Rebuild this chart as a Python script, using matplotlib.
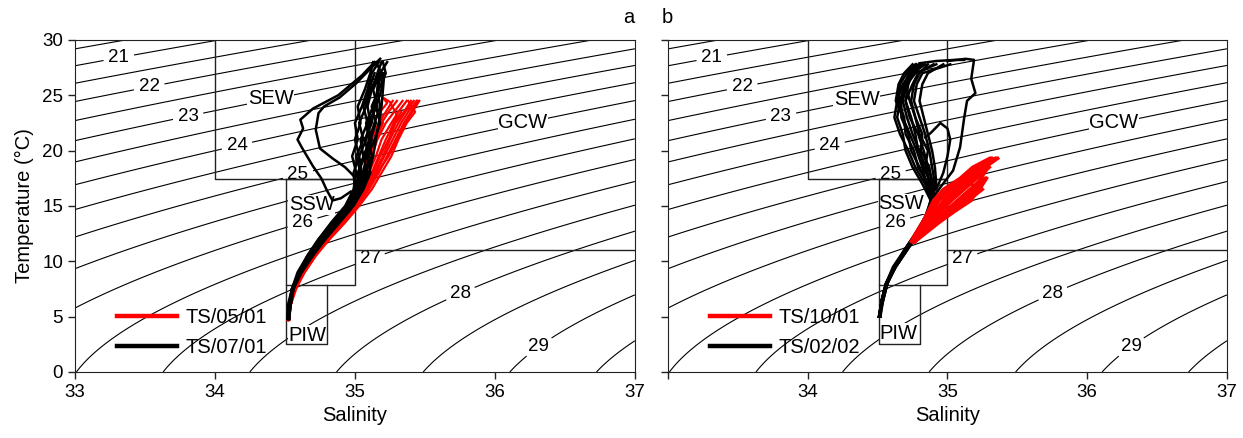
import numpy as np
import matplotlib.pyplot as plt

plt.rcParams['font.family'] = ['Liberation Sans', 'DejaVu Sans']

nan = np.nan

# ---- panel a : red = TS/05/01, black = TS/07/01 ----
ta_red = [4.7, 6.0, 7.5, 9.0, 10.5, 12.0, 13.5, 15.0, 16.5, 18.0, 19.5, 21.0, 22.5, 23.5, 24.5]
sa_red = [
    [34.52, 34.53, 34.56, 34.62, 34.69, 34.78, 34.88, 34.97, 35.04, 35.08, 35.12, 35.16, 35.22, 35.28, 35.34],
    [34.52, 34.54, 34.57, 34.63, 34.71, 34.80, 34.90, 35.00, 35.08, 35.14, 35.20, 35.25, 35.31, 35.36, 35.42],
    [34.53, 34.53, 34.56, 34.61, 34.68, 34.77, 34.87, 34.96, 35.02, 35.06, 35.09, 35.12, 35.17, 35.22, 35.27],
    [34.52, 34.53, 34.57, 34.63, 34.70, 34.79, 34.89, 34.99, 35.07, 35.12, 35.17, 35.22, 35.28, 35.33, nan],
    [34.52, 34.54, 34.58, 34.64, 34.72, 34.81, 34.92, 35.02, 35.10, 35.17, 35.23, 35.29, 35.35, 35.40, 35.45],
    [34.53, 34.54, 34.56, 34.62, 34.70, 34.79, 34.88, 34.98, 35.05, 35.10, 35.15, 35.19, 35.26, 35.31, 35.37],
    [34.52, 34.53, 34.57, 34.63, 34.71, 34.80, 34.91, 35.01, 35.09, 35.15, 35.21, 35.27, 35.33, 35.38, 35.44],
    [34.53, 34.53, 34.56, 34.62, 34.69, 34.78, 34.87, 34.97, 35.03, 35.07, 35.10, 35.14, 35.19, 35.24, 35.30],
    [34.52, 34.54, 34.57, 34.64, 34.72, 34.82, 34.93, 35.03, 35.12, 35.19, 35.26, 35.31, 35.37, 35.43, 35.38],
    [34.52, 34.53, 34.56, 34.62, 34.70, 34.80, 34.90, 35.00, 35.06, 35.13, 35.18, 35.24, 35.29, 35.35, 35.40],
    [34.53, 34.54, 34.57, 34.63, 34.71, 34.81, 34.91, 35.02, 35.09, 35.16, 35.24, 35.30, 35.36, 35.41, 35.46],
]
# red cast with a loop near the surface
ra_loop_s = [35.10, 35.15, 35.20, 35.18, 35.23, 35.20, 35.25, 35.30, 35.26]
ra_loop_t = [19.5, 21.0, 22.5, 23.5, 24.3, 24.8, 24.4, 23.2, 22.0]

ta_black = [4.8, 6.0, 7.5, 9.0, 10.5, 12.0, 13.5, 15.0, 16.5, 18.0, 19.5, 21.0, 22.5, 24.0, 25.5, 27.0, 28.0]
sa_black = [
    [34.52, 34.53, 34.55, 34.60, 34.67, 34.75, 34.84, 34.95, 35.02, 35.04, 35.01, 35.06, 35.03, 35.08, 35.10, 35.14, nan],
    [34.52, 34.53, 34.56, 34.61, 34.68, 34.76, 34.86, 34.97, 35.04, 35.08, 35.10, 35.07, 35.12, 35.14, 35.16, 35.17, nan],
    [34.53, 34.54, 34.56, 34.60, 34.66, 34.74, 34.83, 34.93, 34.99, 35.01, 34.98, 35.02, 35.00, 35.05, 35.09, 35.12, 35.17],
    [34.52, 34.52, 34.55, 34.61, 34.69, 34.78, 34.88, 34.98, 35.05, 35.10, 35.13, 35.15, 35.17, 35.19, 35.20, 35.21, nan],
    [34.53, 34.53, 34.55, 34.59, 34.66, 34.74, 34.84, 34.94, 35.00, 35.03, 35.06, 35.04, 35.09, 35.06, 35.11, 35.18, 35.23],
    [34.52, 34.53, 34.56, 34.62, 34.70, 34.79, 34.89, 34.99, 35.06, 35.11, 35.09, 35.14, 35.18, 35.15, 35.19, 35.20, nan],
    [34.52, 34.53, 34.55, 34.60, 34.67, 34.76, 34.85, 34.96, 35.03, 35.02, 35.07, 35.10, 35.08, 35.13, 35.17, nan, nan],
    [34.53, 34.54, 34.56, 34.61, 34.68, 34.77, 34.87, 34.97, 35.01, 35.05, 35.03, 35.08, 35.11, 35.09, 35.12, 35.16, 35.19],
    [34.52, 34.53, 34.56, 34.61, 34.69, 34.77, 34.86, 34.96, 35.03, 35.07, 35.12, 35.10, 35.14, 35.18, 35.16, 35.19, 35.15],
    [34.52, 34.53, 34.55, 34.60, 34.67, 34.76, 34.85, 34.95, 35.00, 34.99, 35.03, 35.00, 35.04, 35.02, 35.07, 35.11, 35.13],
    [34.53, 34.53, 34.56, 34.61, 34.68, 34.77, 34.87, 34.98, 35.05, 35.09, 35.06, 35.11, 35.15, 35.12, 35.17, 35.22, 35.20],
    [34.52, 34.54, 34.56, 34.61, 34.69, 34.78, 34.87, 34.97, 35.02, 35.06, 35.08, 35.12, 35.09, 35.16, 35.13, 35.18, nan],
]
# two casts that loop out to low salinity
loop1_s = [34.97, 34.90, 34.84, 34.80, 34.76, 34.70, 34.62, 34.59, 34.63, 34.61, 34.70, 34.88, 35.05, 35.14]
loop1_t = [16.3, 15.7, 15.5, 16.4, 17.5, 18.6, 20.3, 21.0, 22.0, 22.8, 23.8, 25.0, 26.8, 28.0]
loop2_s = [35.00, 34.93, 34.84, 34.75, 34.72, 34.74, 34.78, 34.89, 35.01, 35.18]
loop2_t = [17.6, 18.5, 19.3, 20.2, 21.9, 23.4, 24.0, 24.8, 26.1, 28.3]

# ---- panel b : red = TS/10/01, black = TS/02/02 ----
tb_red = [11.8, 12.5, 13.5, 14.5, 15.5, 16.5, 17.5, 18.5, 19.3]
sb_red = [
    [34.74, 34.77, 34.82, 34.86, 34.90, 34.97, 35.09, 35.18, 35.30],
    [34.75, 34.78, 34.84, 34.89, 34.94, 35.02, 35.13, 35.24, 35.34],
    [34.75, 34.79, 34.86, 34.92, 34.99, 35.07, 35.17, 35.27, 35.36],
    [34.76, 34.80, 34.88, 34.95, 35.03, 35.12, 35.21, 35.30, nan],
    [34.76, 34.81, 34.89, 34.98, 35.07, 35.16, 35.25, nan, nan],
    [34.77, 34.82, 34.91, 35.01, 35.11, 35.20, 35.27, nan, nan],
    [34.76, 34.83, 34.93, 35.03, 35.15, 35.25, nan, nan, nan],
    [34.75, 34.79, 34.87, 34.94, 35.01, 35.10, 35.19, 35.26, 35.32],
    [34.76, 34.82, 34.90, 35.00, 35.09, 35.18, 35.24, 35.29, nan],
    [34.75, 34.78, 34.83, 34.88, 34.92, 35.00, 35.11, 35.21, 35.31],
    [34.77, 34.83, 34.92, 35.02, 35.13, 35.23, 35.28, nan, nan],
    [34.76, 34.80, 34.86, 34.91, 34.97, 35.05, 35.15, 35.23, 35.35],
    [34.77, 34.84, 34.94, 35.05, 35.17, 35.22, 35.12, nan, nan],
]
tb_black = [5.0, 6.5, 8.0, 9.5, 11.0, 12.5, 14.0, 15.5, 17.0, 18.5, 20.0, 21.5, 23.0, 24.5, 26.0, 27.0, 27.8]
sb_black = [
    [34.51, 34.53, 34.56, 34.62, 34.70, 34.78, 34.85, 34.89, 34.84, 34.77, 34.72, 34.66, 34.62, 34.64, 34.68, 34.74, 34.80],
    [34.51, 34.53, 34.57, 34.63, 34.71, 34.79, 34.86, 34.90, 34.88, 34.84, 34.86, 34.80, 34.77, 34.74, 34.76, 34.80, 34.86],
    [34.52, 34.54, 34.57, 34.62, 34.70, 34.78, 34.85, 34.88, 34.82, 34.75, 34.70, 34.68, 34.64, 34.66, 34.70, 34.72, 34.78],
    [34.51, 34.53, 34.56, 34.62, 34.69, 34.77, 34.84, 34.89, 34.92, 34.91, 34.89, 34.86, 34.83, 34.80, 34.82, 34.86, 34.97],
    [34.51, 34.53, 34.56, 34.61, 34.69, 34.77, 34.84, 34.88, 34.86, 34.80, 34.74, 34.72, 34.67, 34.67, 34.69, 34.73, 34.80],
    [34.52, 34.53, 34.57, 34.63, 34.71, 34.79, 34.86, 34.90, 34.87, 34.85, 34.79, 34.77, 34.74, 34.70, 34.72, 34.75, 34.84],
    [34.51, 34.53, 34.56, 34.62, 34.70, 34.78, 34.85, 34.89, 34.90, 34.86, 34.83, 34.79, 34.73, 34.70, 34.75, 34.79, 34.90],
    [34.51, 34.54, 34.57, 34.62, 34.70, 34.78, 34.86, 34.90, 34.86, 34.79, 34.76, 34.70, 34.69, 34.65, 34.66, 34.71, 34.77],
    [34.52, 34.53, 34.56, 34.62, 34.70, 34.78, 34.85, 34.89, 34.91, 34.89, 34.87, 34.84, 34.80, 34.76, 34.78, 34.82, 35.02],
    [34.51, 34.53, 34.57, 34.62, 34.70, 34.78, 34.85, 34.89, 34.88, 34.83, 34.80, 34.75, 34.71, 34.68, 34.71, 34.77, 34.92],
    [34.52, 34.53, 34.56, 34.63, 34.71, 34.79, 34.86, 34.90, 34.89, 34.87, 34.81, 34.82, 34.77, 34.73, 34.70, 34.74, 34.82],
    [34.51, 34.54, 34.57, 34.62, 34.70, 34.78, 34.85, 34.88, 34.85, 34.82, 34.78, 34.73, 34.68, 34.63, 34.65, 34.69, 34.75],
]
# saltier casts and the surface strokes at the top
outb_s = [34.90, 34.95, 35.04, 35.09, 35.12, 35.14, 35.20, 35.17, 35.19, 35.13, 35.00]
outb_t = [15.8, 16.7, 18.2, 20.3, 23.0, 24.5, 25.2, 26.5, 28.2, 28.3, 28.1]
out2b_s = [34.92, 34.97, 35.00, 35.02, 35.00, 34.95, 34.88, 34.84]
out2b_t = [16.5, 18.0, 19.5, 21.0, 22.0, 22.5, 21.6, 21.2]
topb_s = [34.80, 34.92, 35.05, 35.12]
topb_t = [27.9, 28.1, 28.2, 28.2]

# water mass boxes and labels
sew_box = ([34.0, 34.0, 35.0, 35.0], [30.0, 17.4, 17.4, 30.0])
ssw_box = ([34.51, 34.51, 35.0, 35.0, 34.51], [17.4, 7.9, 7.9, 17.4, 17.4])
piw_box = ([34.51, 34.51, 34.8, 34.8], [7.9, 2.5, 2.5, 7.9])
gcw_line = ([35.0, 37.0], [11.0, 11.0])
mass_names = ['SEW', 'SSW', 'PIW', 'GCW']
mass_pos_a = [(34.40, 24.7), (34.69, 15.1), (34.66, 3.3), (36.20, 22.5)]
mass_pos_b = [(34.35, 24.6), (34.67, 15.2), (34.65, 3.5), (36.19, 22.5)]

half_levels = [20.5, 21.5, 22.5, 23.5, 24.5, 25.5, 26.5, 27.5, 28.5, 29.5]
label_levels = [21, 22, 23, 24, 25, 26, 27, 28, 29]
label_pos = [(33.31, 28.6), (33.53, 25.8), (33.81, 23.0), (34.16, 20.3), (34.59, 18.0),
             (34.64, 12.9), (35.12, 9.8), (35.76, 6.9), (36.33, 2.0)]


def sigma_t(S, T):
    # UNESCO EOS-80 at atmospheric pressure
    rw = (999.842594 + 6.793952e-2 * T - 9.095290e-3 * T**2 + 1.001685e-4 * T**3
          - 1.120083e-6 * T**4 + 6.536332e-9 * T**5)
    A = 8.24493e-1 - 4.0899e-3 * T + 7.6438e-5 * T**2 - 8.2467e-7 * T**3 + 5.3875e-9 * T**4
    B = -5.72466e-3 + 1.0227e-4 * T - 1.6546e-6 * T**2
    C = 4.8314e-4
    return rw + A * S + B * S**1.5 + C * S**2 - 1000.0


def draw_panel(ax, red_t, red_s, red_extras, black_t, black_s, extras, red_on_top,
               red_lw, names, mass_pos, labels):
    SS, TT = np.meshgrid(np.linspace(33, 37, 300), np.linspace(0, 30, 300))
    sig = sigma_t(SS, TT)
    ax.contour(SS, TT, sig, levels=half_levels, colors='k', linewidths=0.8, zorder=1)
    cs = ax.contour(SS, TT, sig, levels=label_levels, colors='k', linewidths=0.8, zorder=1)
    txts = ax.clabel(cs, manual=label_pos, inline=True, fmt='%d',
                     fontsize=13.5, inline_spacing=5)
    for t in txts:
        t.set_rotation(0)

    for bx, by in [sew_box, ssw_box, piw_box, gcw_line]:
        ax.plot(bx, by, color='#222222', lw=1.0, zorder=3)
    for name, (x, y) in zip(names, mass_pos):
        ax.text(x, y, name, fontsize=14.5, ha='center', va='center', zorder=2.5,
                bbox=dict(facecolor='white', edgecolor='none', pad=0.5))

    rz, kz = (5, 4) if red_on_top else (4, 5)
    for s in red_s:
        ax.plot(s, red_t, color='red', lw=red_lw, zorder=rz)
    for s, t in red_extras:
        ax.plot(s, t, color='red', lw=red_lw, zorder=rz)
    for s in black_s:
        ax.plot(s, black_t, color='black', lw=1.8, zorder=kz)
    for s, t in extras:
        ax.plot(s, t, color='black', lw=1.8, zorder=kz)

    h1, = ax.plot([], [], color='red', lw=3.2)
    h2, = ax.plot([], [], color='black', lw=3.2)
    ax.legend([h1, h2], labels, loc='center left', bbox_to_anchor=(0.075, 0.12),
              frameon=False, fontsize=14.5, handlelength=3.0, handletextpad=0.4,
              labelspacing=0.55, borderpad=0, borderaxespad=0)

    ax.set_xlim(33, 37)
    ax.set_ylim(0, 30)
    ax.set_xticks([33, 34, 35, 36, 37])
    ax.set_yticks([0, 5, 10, 15, 20, 25, 30])
    ax.tick_params(direction='out', length=5, width=1, labelsize=13.5, color='#222222')
    for sp in ax.spines.values():
        sp.set_color('#222222')
    ax.set_xlabel('Salinity', fontsize=14.5, labelpad=4)


fig = plt.figure(figsize=(12.43, 4.38), dpi=100)
ax1 = fig.add_axes([0.0603, 0.1507, 0.4505, 0.758])
ax2 = fig.add_axes([0.5374, 0.1507, 0.4497, 0.758])

draw_panel(ax1, ta_red, sa_red, [(ra_loop_s, ra_loop_t)], ta_black, sa_black,
           [(loop1_s, loop1_t), (loop2_s, loop2_t)], False, 1.6,
           mass_names, mass_pos_a, ['TS/05/01', 'TS/07/01'])
draw_panel(ax2, tb_red, sb_red, [], tb_black, sb_black,
           [(outb_s, outb_t), (out2b_s, out2b_t), (topb_s, topb_t)], True, 2.4,
           mass_names, mass_pos_b, ['TS/10/01', 'TS/02/02'])

ax1.set_ylabel('Temperature (°C)', fontsize=14.5, labelpad=6)
ax2.set_yticklabels([])
ax2.set_xticklabels(['', '34', '35', '36', '37'])

fig.text(0.506, 0.961, 'a', fontsize=14.5, ha='center', va='center')
fig.text(0.537, 0.961, 'b', fontsize=14.5, ha='center', va='center')

fig.savefig('out.png', dpi=100)
